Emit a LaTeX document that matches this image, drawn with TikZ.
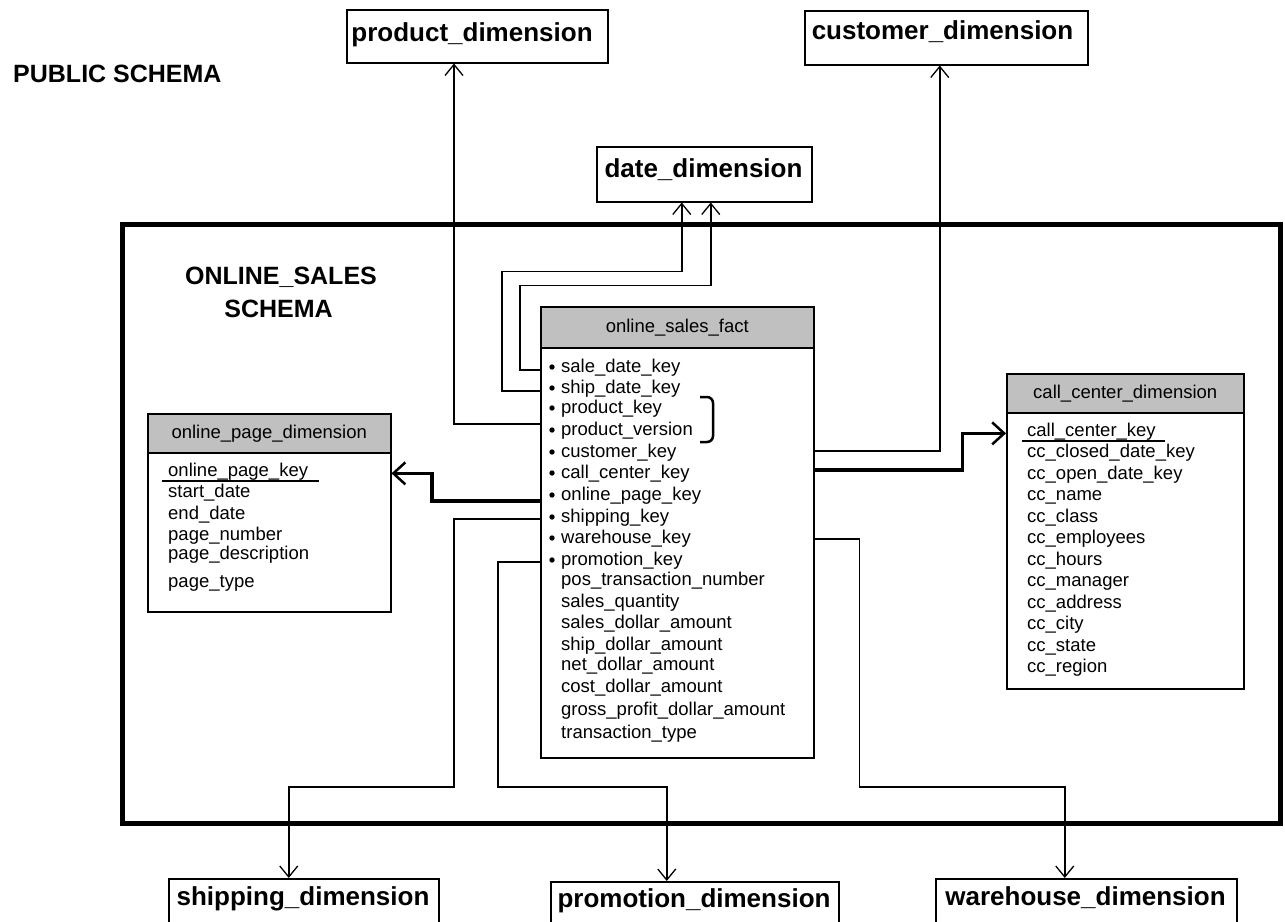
\documentclass[tikz,border=0pt]{standalone}
\usepackage{fontspec}
\setmainfont{Liberation Sans}
\usetikzlibrary{arrows.meta,calc}
\newcommand\bigfnt{\fontsize{26}{28}\selectfont\bfseries}
\newcommand\schfnt{\fontsize{25}{28}\selectfont\bfseries}
\newcommand\tblfnt{\fontsize{18.5}{21}\selectfont}
\definecolor{hdrgray}{RGB}{192,192,192}
\begin{document}
\begin{tikzpicture}[x=1pt,y=-1pt,
  dimbox/.style={draw,line width=1.5pt,fill=white,inner sep=0pt,anchor=north west},
  hdr/.style={draw,line width=1.5pt,fill=hdrgray,inner sep=0pt,anchor=north west,font=\tblfnt},
  tbody/.style={draw,line width=1.5pt,fill=white,inner sep=0pt,anchor=north west},
  bigtxt/.style={font=\bigfnt,inner sep=0pt,anchor=base},
  schtxt/.style={font=\schfnt,inner sep=0pt,anchor=base},
  row/.style={font=\tblfnt,inner sep=0pt,anchor=base west},
  conn/.style={line width=1.6pt,-{Straight Barb[length=11pt,width=18pt,line width=1.3pt]}},
  thickconn/.style={line width=3.5pt,-{Straight Barb[length=12pt,width=22pt,line width=2.5pt]}},
]
\useasboundingbox (0,0) rectangle (1285,921);
\fill[white] (0,0) rectangle (1285,921);

% titles
\node[font=\fontsize{25}{28}\selectfont\bfseries,inner sep=0pt,anchor=base west] (pub) at (13,82) {PUBLIC SCHEMA};

% schema frame
\draw[line width=5pt] (122.5,224.5) rectangle (1280.5,823);
\node[schtxt] (os1) at (281,284) {ONLINE\_SALES};
\node[schtxt] (os2) at (278.5,317) {SCHEMA};

% outer dimension boxes
\node[dimbox,minimum width=261pt,minimum height=53pt] (prod) at (346,9) {};
\node[bigtxt] (prodt) at (472,41) {product\_dimension};
\node[dimbox,minimum width=283pt,minimum height=54pt] (cust) at (804,10) {};
\node[bigtxt] (custt) at (942.5,39) {customer\_dimension};
\node[dimbox,minimum width=215pt,minimum height=55pt] (date) at (596,146) {};
\node[bigtxt] (datet) at (703.5,177) {date\_dimension};
\node[dimbox,minimum width=270pt,minimum height=52pt] (ship) at (168,878) {};
\node[bigtxt] (shipt) at (303,905) {shipping\_dimension};
\node[dimbox,minimum width=288pt,minimum height=50pt] (promo) at (550,881) {};
\node[bigtxt] (promot) at (694,907) {promotion\_dimension};
\node[dimbox,minimum width=301pt,minimum height=52pt] (ware) at (935,878) {};
\node[bigtxt] (waret) at (1085.5,905) {warehouse\_dimension};

% fact table
\node[hdr,minimum width=273pt,minimum height=41pt] (facth) at (540,306) {online\_sales\_fact};
\node[tbody,minimum width=273pt,minimum height=410pt] (factb) at (540,347) {};
\foreach \t/\y [count=\i] in {sale\_date\_key/372,ship\_date\_key/393,product\_key/413,product\_version/435,customer\_key/457,call\_center\_key/478,online\_page\_key/500,shipping\_key/522,warehouse\_key/543,promotion\_key/565,pos\_transaction\_number/585,sales\_quantity/607,sales\_dollar\_amount/628,ship\_dollar\_amount/650,net\_dollar\_amount/670,cost\_dollar\_amount/692,gross\_profit\_dollar\_amount/715,transaction\_type/738}
  {\node[row] (r\i) at (561,\y) {\t};}
\foreach \y in {372,393,413,435,457,478,500,522,543,565}
  {\fill (552,\y-5) circle (2.7pt);}
\draw[line width=2.5pt] (700,397) -- (707,397) to[out=0,in=90] (713,403) -- (713,436) to[out=-90,in=0] (707,442) -- (700,442);
\coordinate (pk) at ($(r3.base)!0.5!(r4.base)$);

% online page table
\node[hdr,minimum width=243pt,minimum height=39pt] (oph) at (147,413) {online\_page\_dimension};
\node[tbody,minimum width=243pt,minimum height=159pt] (opb) at (147,452) {};
\foreach \t/\y [count=\i] in {online\_page\_key/476,start\_date/497,end\_date/519,page\_number/540,page\_description/559,page\_type/587}
  {\node[row] (o\i) at (168,\y) {\t};}
\draw[line width=2.2pt] ($(o1.base west)+(-6,5)$) -- ++(157,0);

% call center table
\node[hdr,minimum width=237pt,minimum height=39pt] (cch) at (1006,373) {call\_center\_dimension};
\node[tbody,minimum width=237pt,minimum height=276pt] (ccb) at (1006,412) {};
\foreach \t/\y [count=\i] in {call\_center\_key/436,cc\_closed\_date\_key/457.5,cc\_open\_date\_key/479,cc\_name/500.5,cc\_class/522,cc\_employees/543.5,cc\_hours/565,cc\_manager/586.5,cc\_address/608,cc\_city/629.5,cc\_state/651,cc\_region/672.5}
  {\node[row] (c\i) at (1027,\y) {\t};}
\draw[line width=2.2pt] ($(c1.base west)+(-5,5)$) -- ++(143,0);

% connectors
\draw[conn] ($(factb.west |- r1.base)+(0,-2)$) -- ++(-20,0) |- ($(date.south)+(6.5,83)$) -- ($(date.south)+(6.5,0)$);
\draw[conn] ($(factb.west |- r2.base)+(0,-2)$) -- ++(-38,0) |- ($(date.south)+(-22.5,69)$) -- ($(date.south)+(-22.5,0)$);
\draw[conn] (factb.west |- pk) -| ($(prod.south west)+(108,0)$);
\draw[conn] ($(factb.east |- r5.base)+(0,-6)$) -| ($(cust.south)+(-6.5,0)$);
\draw[thickconn] ($(factb.east |- r6.base)+(0,-8)$) -- ++(148,0) |- (ccb.west |- c1.mid);
\draw[thickconn] ($(factb.west |- r7.base)+(0,1)$) -- ++(-108,0) |- (opb.east |- o1.mid);
\draw[conn] ($(factb.west |- r8.base)+(0,-3)$) -- ++(-86,0) |- ($(ship.north)+(-15,-91)$) -- ($(ship.north)+(-15,0)$);
\draw[conn] ($(factb.west |- r10.base)+(0,-3)$) -- ++(-42,0) |- ($(promo.north)+(-28,-94)$) -- ($(promo.north)+(-28,0)$);
\draw[conn] ($(factb.east |- r9.base)+(0,-4)$) -- ++(45,0) |- ($(ware.north)+(-21.5,-91)$) -- ($(ware.north)+(-21.5,0)$);
\end{tikzpicture}
\end{document}
